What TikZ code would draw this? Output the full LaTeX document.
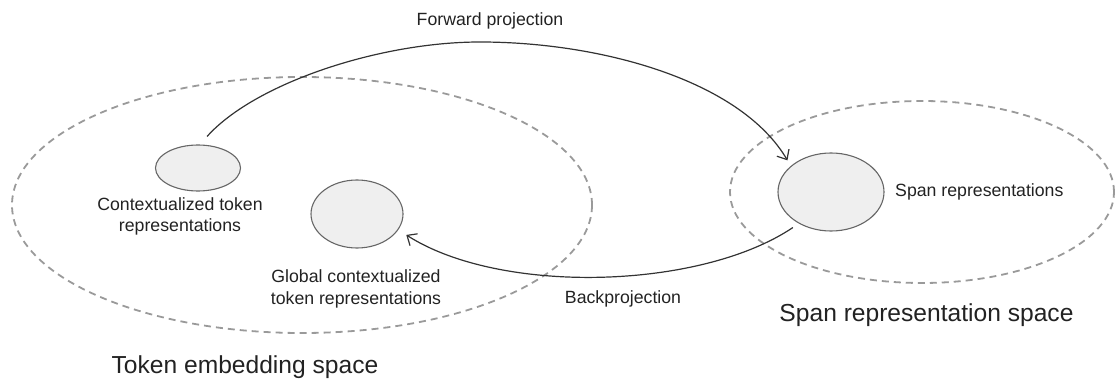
\documentclass[tikz,border=0pt]{standalone}
\usepackage{fontspec}
\setmainfont{Liberation Sans}
\usetikzlibrary{arrows.meta,shapes.geometric}

\definecolor{spacegray}{HTML}{9A9A9A}
\definecolor{blobedge}{HTML}{666666}
\definecolor{blobfill}{HTML}{EFEFEF}
\definecolor{linkcol}{HTML}{333333}
\definecolor{inkcol}{HTML}{222222}

\tikzset{
  space/.style={ellipse, draw=spacegray, line width=1.8pt,
    dash pattern=on 7pt off 5pt, inner sep=0pt},
  blob/.style={ellipse, draw=blobedge, fill=blobfill, line width=1.1pt, inner sep=0pt},
  small/.style={text=inkcol, font=\fontsize{17.7}{21.5}\selectfont, inner sep=0pt},
  big/.style={text=inkcol, font=\fontsize{24.6}{29}\selectfont, inner sep=0pt},
  link/.style={draw=linkcol, line width=1.2pt,
    -{Straight Barb[length=8pt,width=14pt,line width=1.2pt]}},
}

\begin{document}
\begin{tikzpicture}[x=1pt, y=-1pt]
  \useasboundingbox (0,0) rectangle (1115,379);

  % the two embedding spaces
  \node[space, minimum width=580, minimum height=256] (tokspace) at (302,205) {};
  \node[space, minimum width=384, minimum height=182] (spanspace) at (922,192) {};

  % representations inside them
  \node[blob, minimum width=85, minimum height=46, outer sep=9pt] (ctx) at (198,168) {};
  \node[blob, minimum width=92, minimum height=68, outer sep=10pt] (glob) at (357,214) {};
  \node[blob, minimum width=106, minimum height=78, outer sep=7pt] (span) at (831,192) {};

  % labels (base = baseline of the last line)
  \node[small, align=center, anchor=base] (ctxlabel) at (180,231.7)
    {Contextualized token\\representations};
  \node[small, align=center, anchor=base] (globlabel) at (356,304.3)
    {Global contextualized\\token representations};
  \node[small, anchor=base west] (spanlabel) at (895,197) {Span representations};
  \node[small, anchor=base] (fwdlabel) at (490,26) {Forward projection};
  \node[small, anchor=base] (backlabel) at (623,303.3) {Backprojection};
  \node[big, anchor=base] (toklabel) at (245,373) {Token embedding space};
  \node[big, anchor=base] (spanspacelabel) at (926.5,321) {Span representation space};

  % projections between the spaces
  \coordinate (fwdtop) at (480,42);
  \draw[link] (ctx.74) .. controls (255,83) and (380,42) .. (fwdtop)
    .. controls (600,42) and (740,80) .. (span.144);
  \draw[link] (span.223) .. controls (700,290) and (500,295) .. (glob.-23);
\end{tikzpicture}
\end{document}
